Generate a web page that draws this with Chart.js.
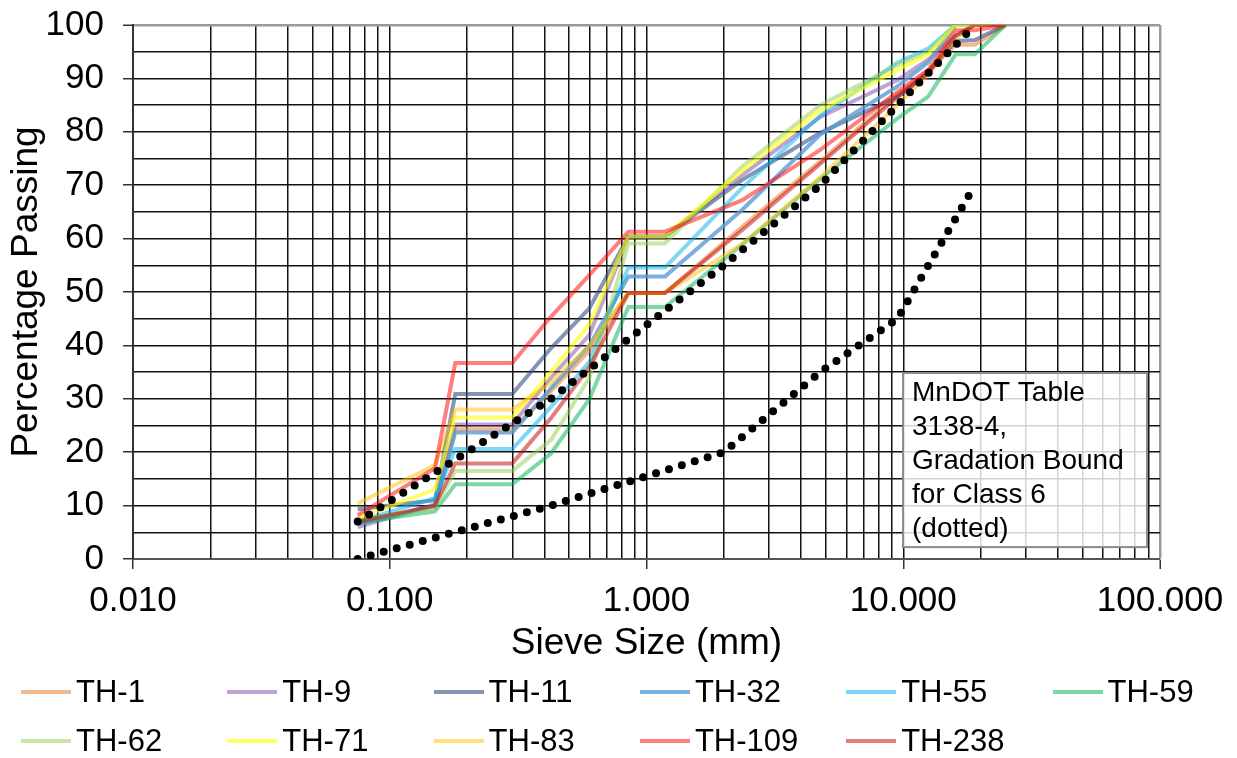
<!DOCTYPE html>
<html>
<head>
<meta charset="utf-8">
<script src="https://cdn.jsdelivr.net/npm/chart.js@4.4.1/dist/chart.umd.min.js"></script>
<style>
  html, body { margin: 0; padding: 0; background: #fff; }
  #wrap { position: relative; width: 1237px; height: 758px; overflow: hidden; }
  #legend { position: absolute; left: 0; top: 0; width: 1237px; height: 758px; pointer-events: none;
            font-family: 'Liberation Sans', Arial, sans-serif; font-size: 31px; color: #000; }
  .item { position: absolute; height: 40px; display: flex; align-items: center; white-space: nowrap; }
  .sw { width: 50px; height: 4px; margin-right: 5px; }
</style>
</head>
<body>
<div id="wrap">
  <canvas id="c" width="1237" height="758"></canvas>
  <div id="legend"></div>
</div>
<script>
// Sieve openings (mm) used for every gradation test
const sieveSizes = [0.075, 0.15, 0.18, 0.3, 0.425, 0.6, 0.85, 1.18, 2.36, 4.75, 9.5, 12.5, 16, 19, 25];

// Percent passing for each trunk highway sample
const th1   = [7.0, 9.8, 24.3, 24.3, 31.5, 39, 49.8, 49.8, 62.2, 74.5, 87, 91.5, 96.3, 96.3, 100];
const th9   = [6.0, 10.2, 25.2, 25.2, 34, 42, 60.4, 60.4, 71.9, 82.8, 89.7, 93.5, 98, 100, 100];
const th11  = [9.3, 11.0, 30.9, 30.9, 39.5, 47, 60.4, 60.4, 71, 79.8, 86.6, 91, 97, 97.2, 100];
const th32  = [6.5, 10.0, 23.7, 23.7, 32, 40, 52.9, 52.9, 65.4, 79.5, 88.5, 93, 100, 100, 100];
const th55  = [7.0, 11.4, 20.6, 20.6, 28.5, 37, 54.6, 54.6, 69.5, 83, 93, 95.6, 100, 100, 100];
const th59  = [6.8, 8.9, 14.0, 14.0, 19.8, 30, 47.2, 47.2, 58.9, 71.2, 82.5, 86.6, 94.5, 94.5, 100];
const th62  = [7.3, 9.5, 16.5, 16.5, 22.3, 34, 59.1, 59.1, 73.5, 85, 92.5, 95, 100, 100, 100];
const th71  = [7.7, 13.0, 26.5, 26.5, 35, 44, 60.4, 60.4, 72.7, 84, 91.6, 94.5, 100, 100, 100];
const th83  = [10.4, 17.6, 28.0, 28.0, 33, 40, 49.8, 49.8, 59, 71.5, 85, 90.8, 97.5, 100, 100];
const th109 = [8.2, 17.0, 36.7, 36.7, 45.4, 53.2, 61.3, 61.3, 67.2, 76.6, 87.5, 91.6, 99, 99, 100];
const th238 = [7.0, 10.0, 17.9, 17.9, 26.4, 36, 49.8, 49.8, 61.6, 74, 86.5, 91, 98, 100, 100];

const seriesNames  = ['TH-1', 'TH-9', 'TH-11', 'TH-32', 'TH-55', 'TH-59', 'TH-62', 'TH-71', 'TH-83', 'TH-109', 'TH-238'];
const seriesValues = [th1, th9, th11, th32, th55, th59, th62, th71, th83, th109, th238];
const seriesColors = [
  'rgba(237,125,49,0.55)', 'rgba(112,48,160,0.45)', 'rgba(50,80,130,0.6)', 'rgba(91,155,213,0.8)',
  'rgba(0,176,240,0.5)', 'rgba(0,176,80,0.5)', 'rgba(146,208,80,0.5)', 'rgba(255,255,0,0.6)',
  'rgba(255,192,0,0.5)', 'rgba(255,0,0,0.5)', 'rgba(192,0,0,0.5)'
];

// MnDOT Table 3138-4 gradation band for Class 6
const boundSizes = [0.075, 0.425, 2.0, 4.75, 9.5, 19];
const upperBound = [7, 30, 55, 70, 85, 100];
const lowerBound = [0, 10, 20, 35, 45, 70];

// Axis ticks
const xDecades = [0.01, 0.1, 1, 10, 100];
const yTickValues = [0, 10, 20, 30, 40, 50, 60, 70, 80, 90, 100];

const noteLines = ['MnDOT Table', '3138-4,', 'Gradation Bound', 'for Class 6', '(dotted)'];

const FONT = "'Liberation Sans', Arial, sans-serif";
const PLOT = { left: 133, top: 25, right: 1160, bottom: 559 };
const toPoints = (xs, ys) => xs.map((x, i) => ({ x: x, y: ys[i] }));
const isDecade = v => Math.abs(Math.log10(v) - Math.round(Math.log10(v))) < 1e-9;

const datasets = seriesNames.map((name, i) => ({
  label: name,
  data: toPoints(sieveSizes, seriesValues[i]),
  borderColor: seriesColors[i],
  backgroundColor: seriesColors[i],
  borderWidth: 4,
  pointRadius: 0,
  showLine: true,
  tension: 0,
  order: 100 - i
}));

[upperBound, lowerBound].forEach((vals, k) => {
  datasets.push({
    label: k === 0 ? 'Upper bound' : 'Lower bound',
    isBound: true,
    data: toPoints(boundSizes, vals),
    borderColor: '#000',
    borderWidth: 8,
    borderDash: [0, 13.5],
    borderCapStyle: 'round',
    pointRadius: 0,
    showLine: true,
    tension: 0,
    order: 0
  });
});

// Text box with the band description
const notePlugin = {
  id: 'noteBox',
  afterDatasetsDraw(chart) {
    const { left, right, top, bottom } = chart.chartArea;
    const w = right - left, h = bottom - top;
    const bx = left + w * 0.7498, by = top + h * 0.6517;
    const bw = w * 0.2376, bh = h * 0.326;
    const ctx = chart.ctx;
    ctx.save();
    ctx.fillStyle = 'rgba(255,255,255,0.82)';
    ctx.fillRect(bx, by, bw, bh);
    ctx.strokeStyle = '#8c8c8c';
    ctx.lineWidth = 2;
    ctx.strokeRect(bx, by, bw, bh);
    ctx.fillStyle = '#000';
    ctx.font = '28px ' + FONT;
    ctx.textBaseline = 'middle';
    ctx.textAlign = 'left';
    noteLines.forEach((t, i) => ctx.fillText(t, bx + 9, by + 20 + i * 34));
    ctx.restore();
  }
};

const chart = new Chart(document.getElementById('c'), {
  type: 'scatter',
  data: { datasets: datasets },
  plugins: [notePlugin],
  options: {
    responsive: false,
    animation: false,
    events: [],
    layout: { padding: { left: 0, top: PLOT.top, right: 1237 - PLOT.right, bottom: 89 } },
    plugins: { legend: { display: false }, tooltip: { enabled: false } },
    scales: {
      x: {
        type: 'logarithmic',
        min: xDecades[0],
        max: xDecades[xDecades.length - 1],
        afterBuildTicks(scale) {
          const ticks = [];
          for (let d = 0; d < xDecades.length - 1; d++) {
            for (let m = 1; m <= 9; m++) ticks.push({ value: m * xDecades[d] });
          }
          ticks.push({ value: xDecades[xDecades.length - 1] });
          scale.ticks = ticks;
        },
        afterFit(scale) { scale.height = 110; },
        ticks: {
          autoSkip: false,
          maxRotation: 0,
          minRotation: 0,
          padding: 11,
          color: '#000',
          font: { family: FONT, size: 35 },
          callback: v => (isDecade(v) ? Number(v).toFixed(3) : '')
        },
        grid: {
          color: ctx => (ctx.tick && Math.abs(ctx.tick.value - 100) < 1e-6 ? '#9a9a9a' : '#111'),
          lineWidth: ctx => (ctx.tick && Math.abs(ctx.tick.value - 100) < 1e-6 ? 2.5 : 1.5),
          tickLength: 10,
          tickColor: ctx => (ctx.tick && isDecade(ctx.tick.value) ? '#333' : 'rgba(0,0,0,0)'),
          tickWidth: 1.5
        },
        border: { display: true, color: '#555', width: 2 },
        title: {
          display: true,
          text: 'Sieve Size (mm)',
          color: '#000',
          font: { family: FONT, size: 37 },
          padding: { top: 0, bottom: 3 }
        }
      },
      y: {
        min: 0,
        max: 100,
        afterBuildTicks(scale) {
          const ticks = [];
          yTickValues.forEach((v, i) => {
            ticks.push({ value: v });
            if (i < yTickValues.length - 1) ticks.push({ value: (v + yTickValues[i + 1]) / 2 });
          });
          scale.ticks = ticks;
        },
        afterFit(scale) {
          scale.width = PLOT.left;
          scale.paddingTop = 0;
          scale.paddingBottom = 0;
        },
        ticks: {
          autoSkip: false,
          padding: 19,
          color: '#000',
          font: { family: FONT, size: 35 },
          callback: v => (yTickValues.includes(v) ? String(v) : '')
        },
        grid: {
          color: ctx => (ctx.tick && ctx.tick.value === 100 ? '#9a9a9a' : '#111'),
          lineWidth: ctx => (ctx.tick && ctx.tick.value === 100 ? 2.5 : 1.5),
          tickLength: 10,
          tickColor: ctx => (ctx.tick && yTickValues.includes(ctx.tick.value) ? '#333' : 'rgba(0,0,0,0)'),
          tickWidth: 1.5
        },
        border: { display: true, color: '#333', width: 2 },
        title: {
          display: true,
          text: 'Percentage Passing',
          color: '#000',
          font: { family: FONT, size: 37 },
          padding: { top: 5, bottom: 0 }
        }
      }
    }
  }
});

// Settle the plot area onto the intended frame
for (let k = 0; k < 3; k++) {
  const a = chart.chartArea;
  const pad = chart.options.layout.padding;
  const dTop = a.top - PLOT.top, dBottom = PLOT.bottom - a.bottom;
  if (Math.abs(dTop) < 0.5 && Math.abs(dBottom) < 0.5) break;
  pad.top -= dTop;
  pad.bottom -= dBottom;
  chart.update();
}

// Legend: two rows of six columns below the plot
const legendEl = document.getElementById('legend');
chart.data.datasets.filter(d => !d.isBound).forEach((d, i) => {
  const col = i % 6, row = Math.floor(i / 6);
  const item = document.createElement('div');
  item.className = 'item';
  item.style.left = (21 + col * 206.3) + 'px';
  item.style.top = (672 + row * 49) + 'px';
  const sw = document.createElement('span');
  sw.className = 'sw';
  sw.style.background = d.borderColor;
  const tx = document.createElement('span');
  tx.textContent = d.label;
  item.appendChild(sw);
  item.appendChild(tx);
  legendEl.appendChild(item);
});
</script>
</body>
</html>
